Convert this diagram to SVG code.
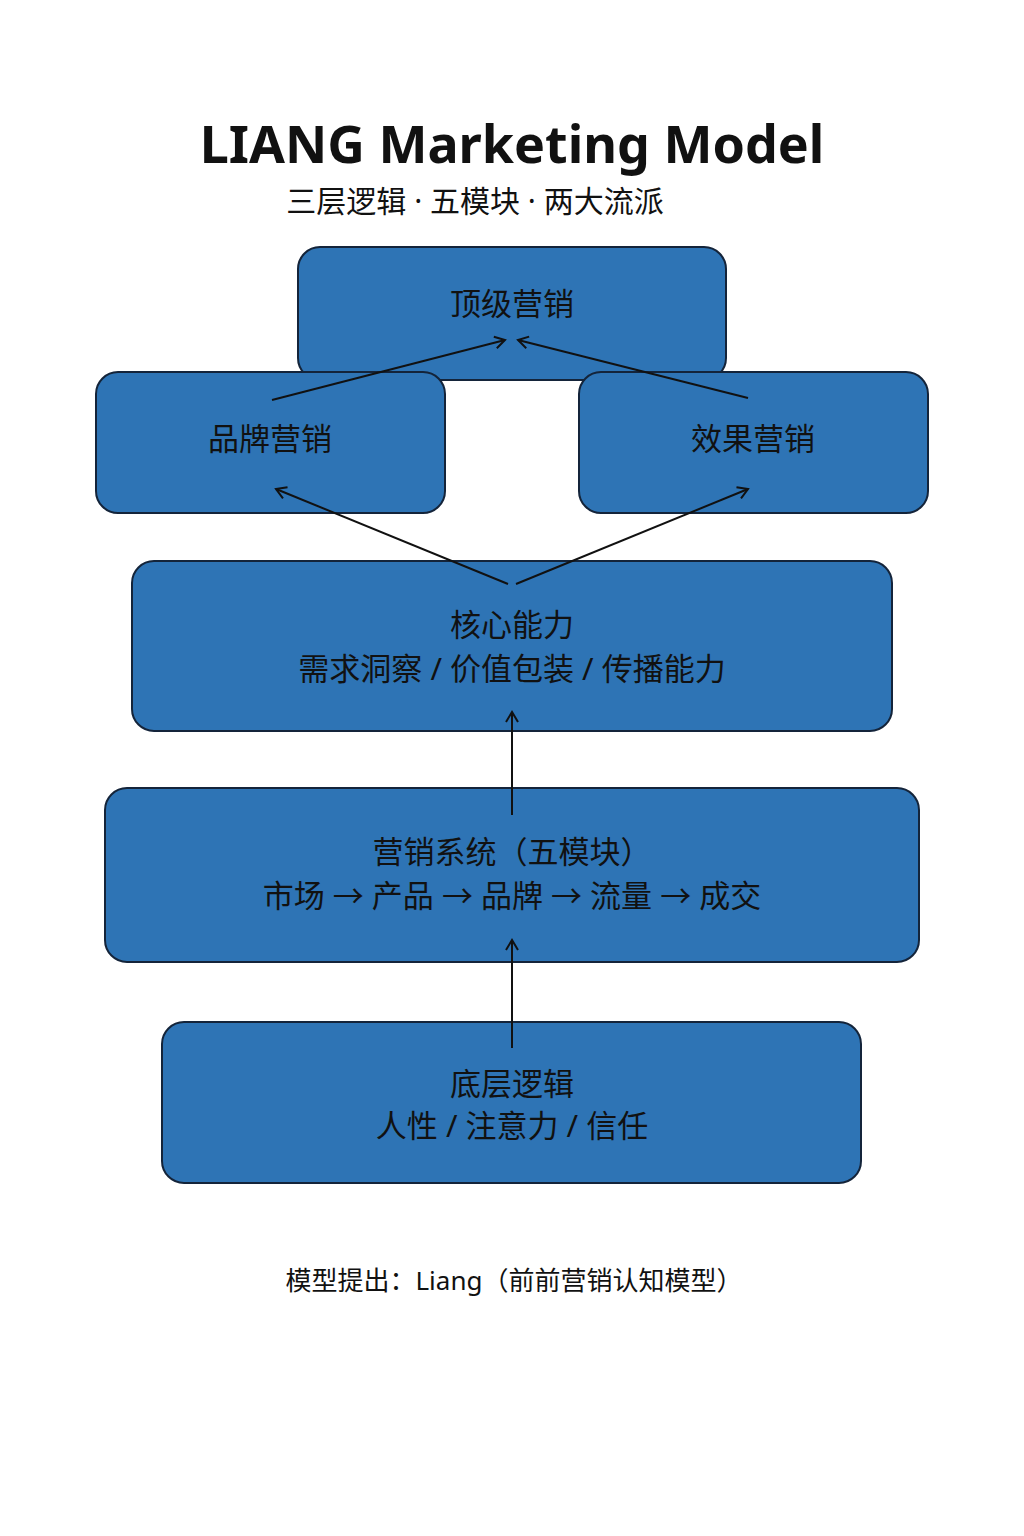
<svg xmlns="http://www.w3.org/2000/svg" width="1024" height="1536" viewBox="0 0 1024 1536">
<style>
.box{fill:#2e74b5;stroke:#14243a;stroke-width:2}
.t{font-family:"Noto Sans","Noto Sans CJK SC",sans-serif;fill:#111;text-anchor:middle;font-size:31px}
.c{stroke:#111;stroke-width:2;fill:none;marker-end:url(#a)}
</style>
<defs><marker id="a" markerWidth="14" markerHeight="14" refX="12" refY="7" orient="auto" markerUnits="userSpaceOnUse"><path d="M2,1 L12,7 L2,13" fill="none" stroke="#111" stroke-width="2"/></marker></defs>
<rect width="1024" height="1536" fill="#fff"/>
<text x="512" y="163" class="t" style="font-size:52px;font-weight:bold">LIANG Marketing Model</text>
<text x="475" y="212" class="t" style="font-size:30px">三层逻辑 · 五模块 · 两大流派</text>
<g id="top"><rect class="box" x="298" y="247" width="428" height="133" rx="22"/><text class="t" x="512" y="315">顶级营销</text></g>
<g id="brand"><rect class="box" x="96" y="372" width="349" height="141" rx="22"/><text class="t" x="270" y="450">品牌营销</text></g>
<g id="perf"><rect class="box" x="579" y="372" width="349" height="141" rx="22"/><text class="t" x="753" y="450">效果营销</text></g>
<g id="core"><rect class="box" x="132" y="561" width="760" height="170" rx="22"/><text class="t" x="512" y="636">核心能力</text><text class="t" x="512" y="680">需求洞察 / 价值包装 / 传播能力</text></g>
<g id="system"><rect class="box" x="105" y="788" width="814" height="174" rx="22"/><text class="t" x="512" y="863">营销系统（五模块）</text><text class="t" x="512" y="907">市场 → 产品 → 品牌 → 流量 → 成交</text></g>
<g id="base"><rect class="box" x="162" y="1022" width="699" height="161" rx="22"/><text class="t" x="512" y="1095">底层逻辑</text><text class="t" x="512" y="1137">人性 / 注意力 / 信任</text></g>
<g id="connectors">
<line class="c" x1="272" y1="400" x2="505" y2="340"/>
<line class="c" x1="748" y1="398" x2="518" y2="340"/>
<line class="c" x1="508" y1="584" x2="276" y2="489"/>
<line class="c" x1="516" y1="584" x2="748" y2="489"/>
<line class="c" x1="512" y1="815" x2="512" y2="712"/>
<line class="c" x1="512" y1="1048" x2="512" y2="940"/>
</g>
<text x="514" y="1290" class="t" style="font-size:26px">模型提出：Liang（前前营销认知模型）</text>
</svg>
